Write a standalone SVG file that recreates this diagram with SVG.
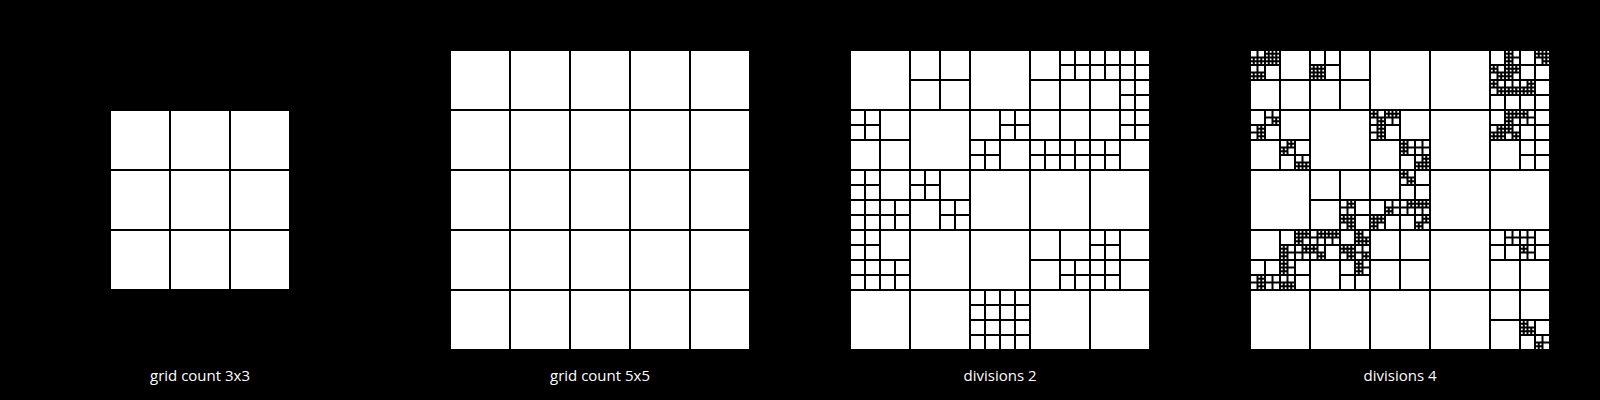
<svg xmlns="http://www.w3.org/2000/svg" width="1600" height="400" viewBox="0 0 1600 400">
<style>
.frame{fill:#fff;stroke:#000;stroke-width:2}
.ln{fill:none;stroke:#000;stroke-width:2}
.lbl{font-family:"Open Sans","DejaVu Sans",sans-serif;font-size:15px;fill:#fff;text-anchor:middle}
</style>
<rect width="1600" height="400" fill="#000"/>
<g id="panel-grid-3x3">
<rect class="frame" x="110" y="110" width="180" height="180"/>
<path class="ln" d="M170 110v180M230 110v180M110 170h180M110 230h180"/>
<text class="lbl" x="200" y="381">grid count 3x3</text>
</g>
<g id="panel-grid-5x5">
<rect class="frame" x="450" y="50" width="300" height="300"/>
<path class="ln" d="M510 50v300M570 50v300M630 50v300M690 50v300M450 110h300M450 170h300M450 230h300M450 290h300"/>
<text class="lbl" x="600" y="381">grid count 5x5</text>
</g>
<g id="panel-divisions-2">
<rect class="frame" x="850" y="50" width="300" height="300"/>
<path class="ln" d="M910 50v300M970 50v300M1030 50v300M1090 50v300M850 110h300M850 170h300M850 230h300M850 290h300
M940 50v60M910 80h60M1060 50v60M1030 80h60M1120 50v60M1090 80h60M880 110v60M850 140h60M1000 110v60M970 140h60M1060 110v60M1030 140h60M1120 110v60M1090 140h60M880 170v60M850 200h60M940 170v60M910 200h60M880 230v60M850 260h60M1060 230v60M1030 260h60M1120 230v60M1090 260h60M1000 290v60M970 320h60
M1075 50v30M1060 65h30M1105 50v30M1090 65h30M1135 50v30M1120 65h30M1135 80v30M1120 95h30M865 110v30M850 125h30M1015 110v30M1000 125h30M985 140v30M970 155h30M1045 140v30M1030 155h30M1075 140v30M1060 155h30M1135 110v30M1120 125h30M1105 140v30M1090 155h30M865 170v30M850 185h30M865 200v30M850 215h30M895 200v30M880 215h30M925 170v30M910 185h30M955 200v30M940 215h30M865 230v30M850 245h30M865 260v30M850 275h30M895 260v30M880 275h30M1075 260v30M1060 275h30M1105 230v30M1090 245h30M1105 260v30M1090 275h30M985 290v30M970 305h30M1015 290v30M1000 305h30M985 320v30M970 335h30M1015 320v30M1000 335h30"/>
<text class="lbl" x="1000" y="381">divisions 2</text>
</g>
<g id="panel-divisions-4">
<rect class="frame" x="1250" y="50" width="300" height="300"/>
<path class="ln" d="M1310 50v300M1370 50v300M1430 50v300M1490 50v300M1250 110h300M1250 170h300M1250 230h300M1250 290h300
M1280 50v60M1250 80h60M1340 50v60M1310 80h60M1520 50v60M1490 80h60M1280 110v60M1250 140h60M1400 110v60M1370 140h60M1520 110v60M1490 140h60M1340 170v60M1310 200h60M1400 170v60M1370 200h60M1280 230v60M1250 260h60M1340 230v60M1310 260h60M1400 230v60M1370 260h60M1520 230v60M1490 260h60M1520 290v60M1490 320h60
M1265 50v30M1250 65h30M1325 50v30M1310 65h30M1505 50v30M1490 65h30M1535 50v30M1520 65h30M1505 80v30M1490 95h30M1535 80v30M1520 95h30M1265 110v30M1250 125h30M1295 140v30M1280 155h30M1385 110v30M1370 125h30M1415 140v30M1400 155h30M1505 110v30M1490 125h30M1535 110v30M1520 125h30M1535 140v30M1520 155h30M1355 200v30M1340 215h30M1415 170v30M1400 185h30M1385 200v30M1370 215h30M1415 200v30M1400 215h30M1295 230v30M1280 245h30M1265 260v30M1250 275h30M1295 260v30M1280 275h30M1325 230v30M1310 245h30M1355 230v30M1340 245h30M1355 260v30M1340 275h30M1505 230v30M1490 245h30M1535 230v30M1520 245h30M1535 320v30M1520 335h30
M1257.5 50v15M1250 57.5h15M1253.75 57.5v7.5M1261.25 57.5v7.5M1250 61.25h15
M1272.5 50v15M1265 57.5h15M1268.75 50v15M1276.25 50v15M1265 53.75h15M1265 61.25h15
M1257.5 65v15M1250 72.5h15M1253.75 72.5v7.5M1261.25 72.5v7.5M1250 76.25h15
M1317.5 65v15M1310 72.5h15M1313.75 65v15M1321.25 65v15M1310 68.75h15M1310 76.25h15
M1512.5 50v15M1505 57.5h15M1508.75 50v15M1505 53.75h7.5M1505 61.25h7.5
M1542.5 50v15M1535 57.5h15M1538.75 50v7.5M1535 53.75h7.5M1546.25 50v7.5M1542.5 53.75h7.5M1546.25 57.5v7.5M1542.5 61.25h7.5
M1497.5 65v15M1490 72.5h15M1493.75 65v7.5M1490 68.75h7.5M1501.25 72.5v7.5M1497.5 76.25h7.5
M1512.5 65v15M1505 72.5h15M1508.75 65v7.5M1505 68.75h7.5M1516.25 65v7.5M1512.5 68.75h7.5M1508.75 72.5v7.5M1505 76.25h7.5
M1497.5 80v15M1490 87.5h15M1493.75 80v7.5M1490 83.75h7.5M1501.25 87.5v7.5M1497.5 91.25h7.5
M1512.5 80v15M1505 87.5h15M1508.75 87.5v7.5M1516.25 87.5v7.5M1505 91.25h15
M1527.5 80v15M1520 87.5h15M1531.25 80v7.5M1527.5 83.75h7.5M1523.75 87.5v7.5M1531.25 87.5v7.5M1520 91.25h15
M1512.5 110v15M1505 117.5h15M1508.75 110v7.5M1505 113.75h7.5M1516.25 110v7.5M1512.5 113.75h7.5M1508.75 117.5v7.5M1505 121.25h7.5
M1527.5 110v15M1520 117.5h15M1523.75 110v7.5M1520 113.75h7.5
M1497.5 125v15M1490 132.5h15M1501.25 125v7.5M1497.5 128.75h7.5M1493.75 132.5v7.5M1501.25 132.5v7.5M1490 136.25h15
M1512.5 125v15M1505 132.5h15M1508.75 125v7.5M1505 128.75h7.5M1516.25 132.5v7.5M1512.5 136.25h7.5
M1272.5 110v15M1265 117.5h15M1276.25 117.5v7.5M1272.5 121.25h7.5
M1257.5 125v15M1250 132.5h15M1261.25 125v15M1257.5 128.75h7.5M1257.5 136.25h7.5
M1287.5 140v15M1280 147.5h15M1291.25 140v7.5M1287.5 143.75h7.5M1283.75 147.5v7.5M1280 151.25h7.5
M1302.5 155v15M1295 162.5h15M1298.75 162.5v7.5M1306.25 162.5v7.5M1295 166.25h15
M1377.5 110v15M1370 117.5h15M1373.75 110v7.5M1370 113.75h7.5M1381.25 117.5v7.5M1377.5 121.25h7.5
M1392.5 110v15M1385 117.5h15M1388.75 110v7.5M1396.25 110v7.5M1385 113.75h15
M1377.5 125v15M1370 132.5h15M1381.25 125v15M1377.5 128.75h7.5M1377.5 136.25h7.5
M1407.5 140v15M1400 147.5h15M1403.75 140v15M1400 143.75h7.5M1400 151.25h7.5
M1422.5 140v15M1415 147.5h15
M1422.5 155v15M1415 162.5h15M1426.25 155v7.5M1422.5 158.75h7.5M1418.75 162.5v7.5M1426.25 162.5v7.5M1415 166.25h15
M1347.5 200v15M1340 207.5h15M1351.25 200v7.5M1347.5 203.75h7.5
M1347.5 215v15M1340 222.5h15M1343.75 215v7.5M1351.25 215v7.5M1340 218.75h15M1351.25 222.5v7.5M1347.5 226.25h7.5
M1407.5 170v15M1400 177.5h15M1403.75 170v7.5M1400 173.75h7.5M1411.25 177.5v7.5M1407.5 181.25h7.5
M1392.5 200v15M1385 207.5h15M1388.75 207.5v7.5M1385 211.25h7.5
M1377.5 215v15M1370 222.5h15M1373.75 215v7.5M1381.25 215v7.5M1370 218.75h15M1373.75 222.5v7.5M1370 226.25h7.5
M1407.5 200v15M1400 207.5h15M1411.25 200v7.5M1407.5 203.75h7.5
M1422.5 200v15M1415 207.5h15M1418.75 200v7.5M1426.25 200v7.5M1415 203.75h15
M1422.5 215v15M1415 222.5h15M1426.25 215v7.5M1422.5 218.75h7.5M1418.75 222.5v7.5M1415 226.25h7.5
M1302.5 230v15M1295 237.5h15M1298.75 230v7.5M1306.25 230v7.5M1295 233.75h15M1298.75 237.5v7.5M1295 241.25h7.5
M1287.5 245v15M1280 252.5h15M1283.75 245v15M1280 248.75h7.5M1280 256.25h7.5
M1302.5 245v15M1295 252.5h15M1306.25 245v7.5M1302.5 248.75h7.5
M1257.5 275v15M1250 282.5h15M1261.25 275v15M1257.5 278.75h7.5M1257.5 286.25h7.5
M1272.5 275v15M1265 282.5h15
M1287.5 260v15M1280 267.5h15M1283.75 260v15M1280 263.75h7.5M1280 271.25h7.5
M1287.5 275v15M1280 282.5h15M1283.75 282.5v7.5M1291.25 282.5v7.5M1280 286.25h15
M1317.5 230v15M1310 237.5h15M1321.25 230v7.5M1317.5 233.75h7.5
M1332.5 230v15M1325 237.5h15M1328.75 230v7.5M1336.25 230v7.5M1325 233.75h15
M1317.5 245v15M1310 252.5h15M1313.75 245v7.5M1310 248.75h7.5M1321.25 252.5v7.5M1317.5 256.25h7.5
M1362.5 230v15M1355 237.5h15M1358.75 230v7.5M1355 233.75h7.5M1358.75 237.5v7.5M1366.25 237.5v7.5M1355 241.25h15
M1347.5 245v15M1340 252.5h15M1343.75 245v7.5M1351.25 245v7.5M1340 248.75h15M1351.25 252.5v7.5M1347.5 256.25h7.5
M1362.5 245v15M1355 252.5h15M1366.25 252.5v7.5M1362.5 256.25h7.5
M1362.5 260v15M1355 267.5h15M1358.75 260v15M1355 263.75h7.5M1355 271.25h7.5
M1512.5 230v15M1505 237.5h15
M1527.5 230v15M1520 237.5h15
M1527.5 245v15M1520 252.5h15M1523.75 245v7.5M1520 248.75h7.5
M1527.5 320v15M1520 327.5h15M1523.75 320v15M1520 323.75h7.5M1520 331.25h7.5M1531.25 327.5v7.5M1527.5 331.25h7.5
M1542.5 335v15M1535 342.5h15M1538.75 342.5v7.5M1535 346.25h7.5"/>
<text class="lbl" x="1400" y="381">divisions 4</text>
</g>
</svg>
